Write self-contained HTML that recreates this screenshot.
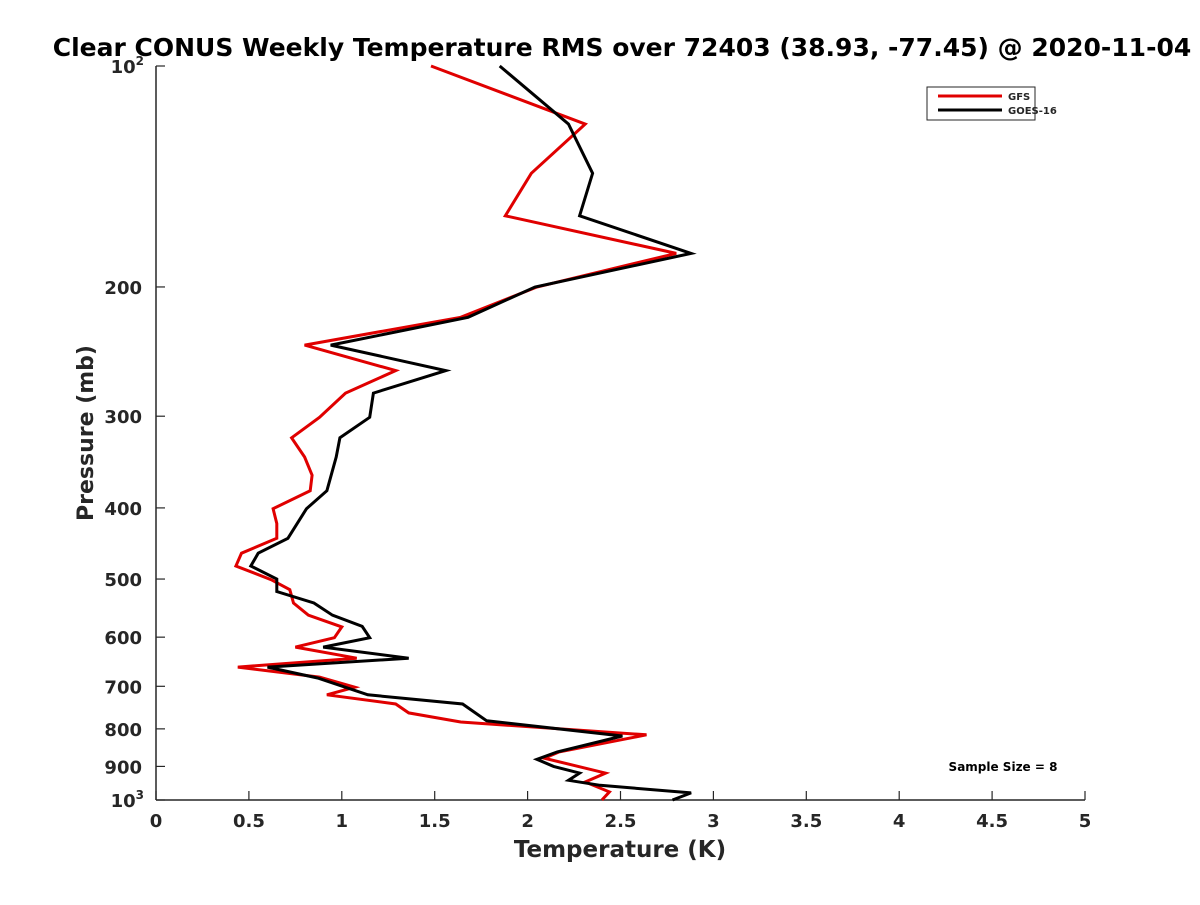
<!DOCTYPE html>
<html><head><meta charset="utf-8"><style>
body{margin:0;background:#fff;}
svg text{font-family:"DejaVu Sans","Liberation Sans",sans-serif;font-weight:bold;fill:#262626;}
</style></head><body>
<svg id="chart" width="1200" height="900" viewBox="0 0 1200 900" xmlns="http://www.w3.org/2000/svg">
<rect width="1200" height="900" fill="#fff"/>
<text x="622" y="56" text-anchor="middle" font-size="25" style="fill:#000">Clear CONUS Weekly Temperature RMS over 72403 (38.93, -77.45) @ 2020-11-04</text>
<g id="axes"></g>
<g id="series"></g>
<text x="620" y="857" text-anchor="middle" font-size="23">Temperature (K)</text>
<text transform="translate(93,433) rotate(-90)" text-anchor="middle" font-size="22">Pressure (mb)</text>
<g>
<rect x="927" y="87" width="108" height="33" fill="#fff" stroke="#262626" stroke-width="1"/>
<line x1="938" y1="96" x2="1002" y2="96" stroke="#e00000" stroke-width="3"/>
<text x="1008" y="100" font-size="10">GFS</text>
<line x1="938" y1="110" x2="1002" y2="110" stroke="#000" stroke-width="3"/>
<text x="1008" y="114" font-size="10">GOES-16</text>
</g>
<text x="1003" y="771" text-anchor="middle" font-size="12" style="fill:#000">Sample Size = 8</text>
</svg>
<script>
const xTicks=[0,0.5,1,1.5,2,2.5,3,3.5,4,4.5,5];
const xTickLabels=["0","0.5","1","1.5","2","2.5","3","3.5","4","4.5","5"];
const yTicks=[100,200,300,400,500,600,700,800,900,1000];
const yTickLabels=["10^2","200","300","400","500","600","700","800","900","10^3"];
const gfsPressure=[100,120,140,160,180,200,220,240,260,279,301,321,341,361,379,401,420,440,461,480,501,517,539,560,581,601,619,641,659,680,702,719,740,761,783,815,860,877,919,945,975,1000];
const gfsTemp=[1.48,2.31,2.02,1.88,2.80,2.05,1.64,0.80,1.29,1.02,0.88,0.73,0.80,0.84,0.83,0.63,0.65,0.65,0.46,0.43,0.62,0.72,0.74,0.82,1.00,0.96,0.75,1.08,0.44,0.88,1.07,0.92,1.29,1.36,1.64,2.64,2.17,2.09,2.42,2.31,2.44,2.40];
const goesPressure=[100,120,140,160,180,200,220,240,260,279,301,321,341,379,401,440,461,480,500,520,539,560,580,601,619,641,659,682,719,740,780,818,860,880,900,919,940,955,978,1000];
const goesTemp=[1.85,2.22,2.35,2.28,2.88,2.04,1.68,0.94,1.56,1.17,1.15,0.99,0.97,0.92,0.81,0.71,0.55,0.51,0.65,0.65,0.85,0.95,1.11,1.15,0.90,1.36,0.60,0.87,1.14,1.65,1.78,2.51,2.16,2.05,2.14,2.28,2.22,2.39,2.88,2.78];
const X0=156,X1=1085,Y0=66,Y1=800;
const xs=v=>X0+(v-0)/(5-0)*(X1-X0);
const ys=p=>Y0+Math.log10(p/100)*(Y1-Y0);
const NS="http://www.w3.org/2000/svg";
const ax=document.getElementById('axes');
function mk(t,a,parent){const e=document.createElementNS(NS,t);for(const k in a)e.setAttribute(k,a[k]);parent.appendChild(e);return e;}
const yl=mk('line',{x1:X0,y1:Y0,x2:X0,y2:Y1,stroke:'#262626','stroke-width':1.5},ax);


const xl=mk('line',{x1:X0,y1:Y1,x2:X1,y2:Y1,stroke:'#262626','stroke-width':1.5},ax);


xTicks.forEach((v,i)=>{
 const x=xs(v);
 mk('line',{x1:x,y1:Y1,x2:x,y2:Y1-9,stroke:'#262626','stroke-width':1.2},ax);
 const t=mk('text',{x:x,y:Y1+27,'text-anchor':'middle','font-size':18},ax);
 t.textContent=xTickLabels[i];
 
 
});
yTicks.forEach((p,i)=>{
 const y=ys(p);
 mk('line',{x1:X0,y1:y,x2:X0+9,y2:y,stroke:'#262626','stroke-width':1.2},ax);
 const lab=yTickLabels[i];
 if(lab.indexOf('^')>=0){
  const parts=lab.split('^');
  const t=mk('text',{x:X0-12,y:y+7,'text-anchor':'end','font-size':18},ax);
  
  
  const a=mk('tspan',{},t);a.textContent=parts[0];
  const b=mk('tspan',{'font-size':12,dy:-8},t);b.textContent=parts[1];
 } else {
  const t=mk('text',{x:X0-14,y:y+7,'text-anchor':'end','font-size':18},ax);
  t.textContent=lab;
  
  
 }
});
const sg=document.getElementById('series');
function line(P,T,color,name){
 const d=P.map((p,i)=>(i?'L':'M')+xs(T[i]).toFixed(1)+','+ys(p).toFixed(1)).join(' ');
 const e=mk('path',{d:d,fill:'none',stroke:color,'stroke-width':3,'stroke-linejoin':'miter'},sg);
 
 
}
line(gfsPressure,gfsTemp,'#e00000','gfs-line');
line(goesPressure,goesTemp,'#000000','goes16-line');
</script>
</body></html>
